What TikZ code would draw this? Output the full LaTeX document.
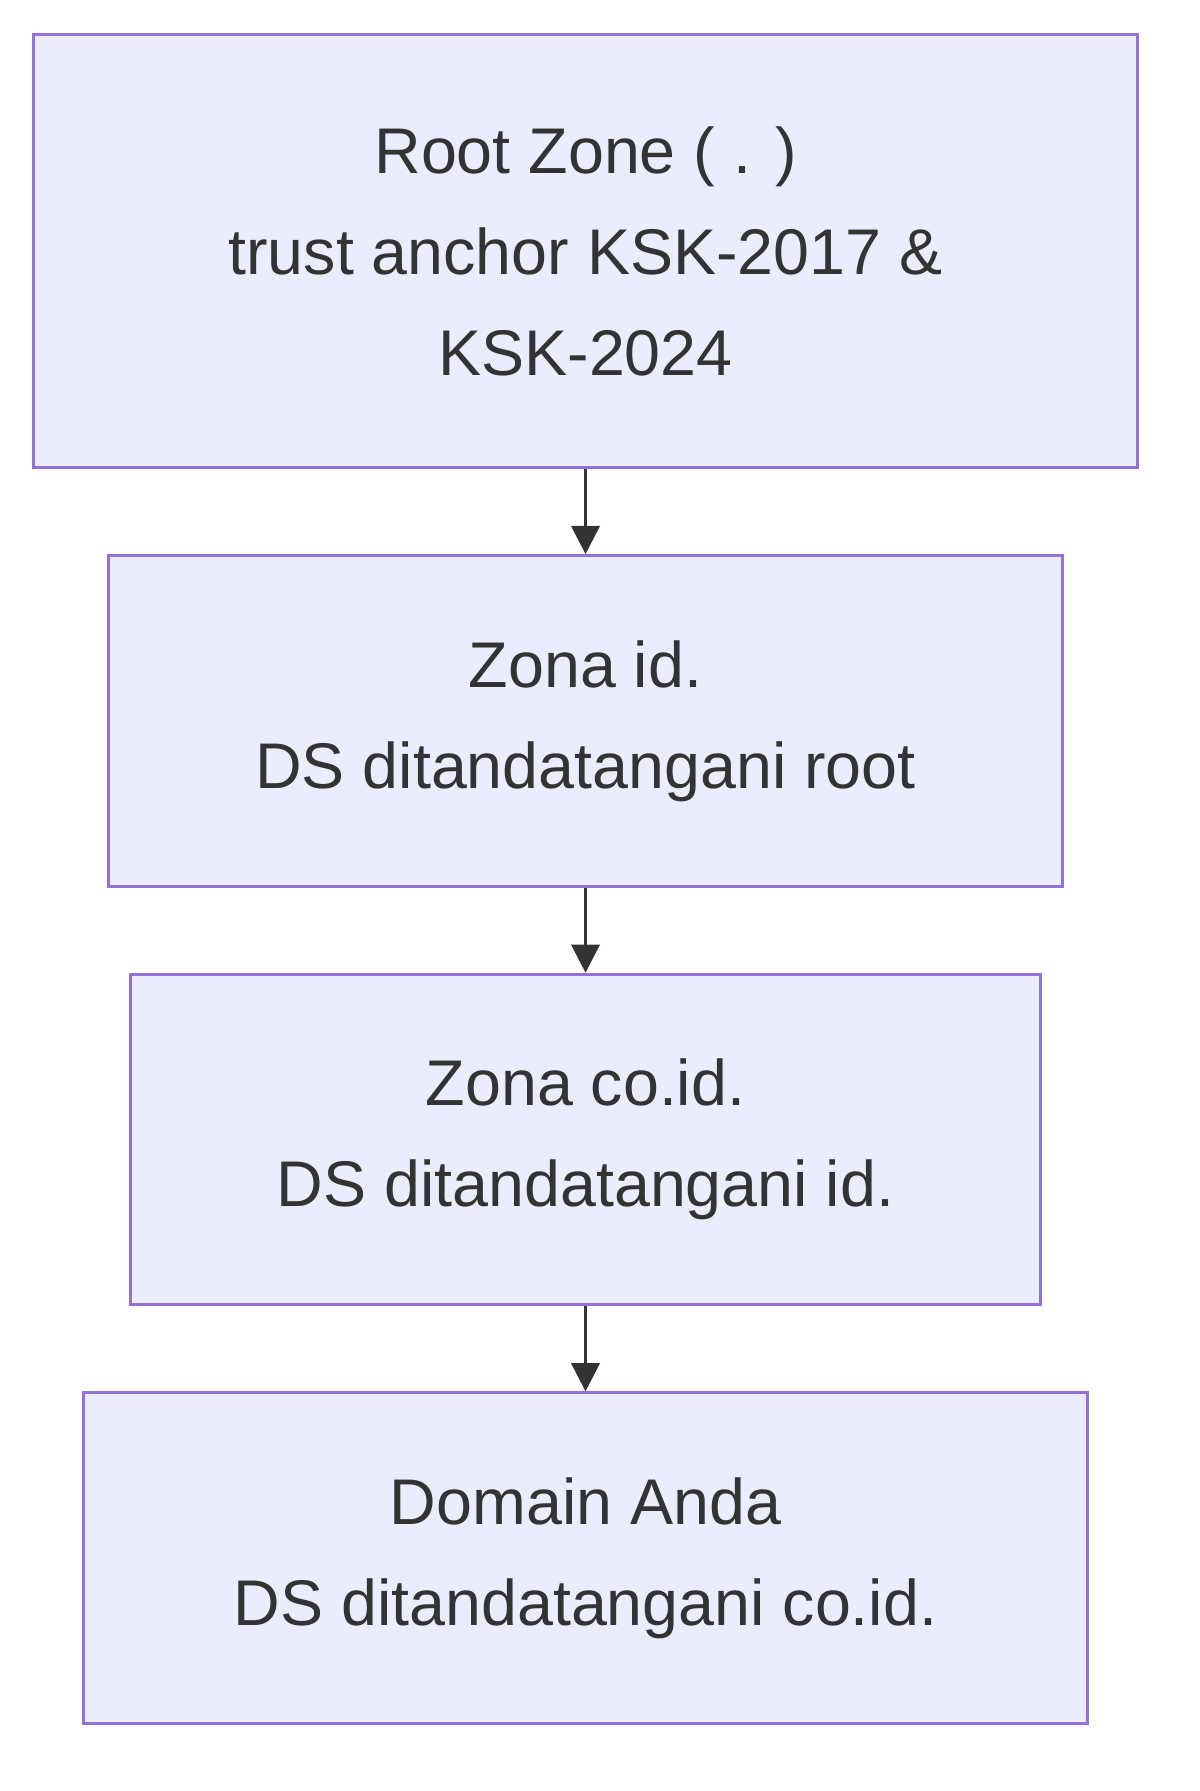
\documentclass[tikz,border=0pt]{standalone}
\usepackage{fontspec}
\setmainfont{Liberation Sans}
\usetikzlibrary{positioning,arrows.meta}
\definecolor{zonefill}{HTML}{ECECFF}
\definecolor{zoneline}{HTML}{9370DB}
\definecolor{arrowgray}{HTML}{333333}
\begin{document}
\begin{tikzpicture}[node distance=1.48cm,
  zone/.style={rectangle,draw=zoneline,fill=zonefill,line width=1.5pt,inner sep=0pt,
    align=center,text=arrowgray,font=\fontsize{32}{50}\selectfont},
  link/.style={-{Triangle[length=14pt,width=14pt]},draw=arrowgray,line width=1.6pt}]
    \useasboundingbox (0,0) rectangle (20.9,-31.2);
    \node[zone,minimum width=19.24cm,minimum height=7.54cm,anchor=north] (root) at (10.2,-0.58)
        {Root Zone ( . )\\trust anchor KSK-2017 \&\\KSK-2024};
    \node[zone,minimum width=16.62cm,minimum height=5.76cm,below=of root] (id)
        {Zona id.\\DS ditandatangani root};
    \node[zone,minimum width=15.84cm,minimum height=5.76cm,below=of id] (coid)
        {Zona co.id.\\DS ditandatangani id.};
    \node[zone,minimum width=17.48cm,minimum height=5.76cm,below=of coid] (domain)
        {Domain Anda\\DS ditandatangani co.id.};
    \draw[link] (root) -- (id);
    \draw[link] (id) -- (coid);
    \draw[link] (coid) -- (domain);
\end{tikzpicture}
\end{document}
